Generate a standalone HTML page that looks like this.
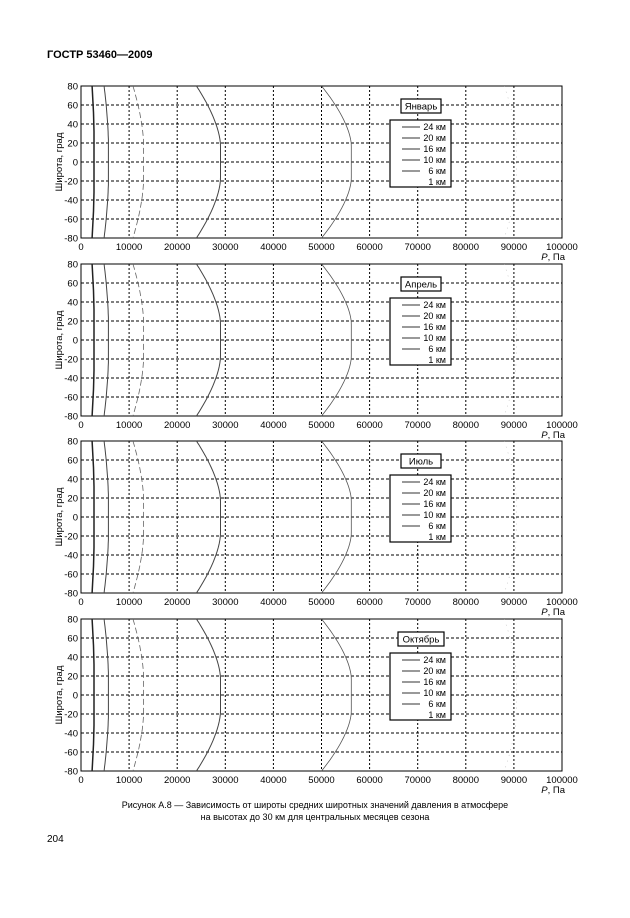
<!DOCTYPE html>
<html><head><meta charset="utf-8"><style>
body{margin:0;background:#fff;width:630px;height:913px;overflow:hidden;font-family:"Liberation Sans",sans-serif}
svg text{font-family:"Liberation Sans",sans-serif}
</style></head><body>
<svg id="s" width="630" height="913" xmlns="http://www.w3.org/2000/svg">
<text x="47" y="58" font-size="11" font-weight="bold">ГОСТР 53460—2009</text>
<text x="315" y="808" font-size="9" text-anchor="middle">Рисунок  А.8  —  Зависимость от широты средних широтных значений давления в атмосфере</text>
<text x="315" y="820" font-size="9" text-anchor="middle">на высотах до 30 км для центральных месяцев сезона</text>
<text x="47" y="842" font-size="10">204</text>
</svg>
<script>
var s=document.getElementById('s'),h='';
var X0=81,X1=562,H=152,tops=[86,264,441,619],months=['Январь','Апрель','Июль','Октябрь'];
function px(p){return X0+(X1-X0)*p/100000}
function f(lat,lo,hi,w){var a=Math.max(0,Math.abs(lat)-w)/(80-w);return lo+(hi-lo)*(1-Math.pow(a,1.6));}
var curves=[[2300,2700,30,'#222',1.5,''],[4800,5700,20,'#444',1,''],[10800,13000,20,'#666',0.8,'6 3'],[24000,29000,18,'#444',1,''],[50000,56200,18,'#555',0.8,''],[88000,90500,20,'#aaa',0.5,'1 5']];
tops.forEach(function(T,k){
 var B=T+H;
 h+='<rect x="'+X0+'" y="'+T+'" width="'+(X1-X0)+'" height="'+H+'" fill="none" stroke="#000" stroke-width="1"/>';
 for(var i=1;i<10;i++){var x=px(i*10000);h+='<line x1="'+x+'" y1="'+T+'" x2="'+x+'" y2="'+B+'" stroke="#000" stroke-dasharray="2 2" stroke-width="1"/>';}
 for(var j=1;j<8;j++){var y=T+j*H/8;h+='<line x1="'+X0+'" y1="'+y+'" x2="'+X1+'" y2="'+y+'" stroke="#000" stroke-dasharray="3 2" stroke-width="1"/>';}
 for(var j=0;j<=8;j++){var y=T+j*H/8;h+='<text x="'+(X0-3)+'" y="'+(y+3.5)+'" font-size="9.5" text-anchor="end">'+(80-20*j)+'</text>';}
 for(var i=0;i<=10;i++){h+='<text x="'+px(i*10000)+'" y="'+(B+12)+'" font-size="9.5" text-anchor="middle">'+(i*10000)+'</text>';}
 h+='<text x="565" y="'+(B+22)+'" font-size="9.5" text-anchor="end"><tspan font-style="italic">P</tspan>, Па</text>';
 h+='<text transform="translate(62,'+(T+H/2)+') rotate(-90)" font-size="9.5" text-anchor="middle">Широта, град</text>';
 curves.forEach(function(c){var d='';for(var lat=80;lat>=-80;lat-=4){d+=(lat==80?'M':'L')+px(f(lat,c[0],c[1],c[2])).toFixed(1)+','+(T+(80-lat)*H/160).toFixed(1);}
  h+='<path d="'+d+'" fill="none" stroke="'+c[3]+'" stroke-width="'+c[4]+'"'+(c[5]?' stroke-dasharray="'+c[5]+'"':'')+'/>';});
 var mw=k==3?46:40;
 h+='<rect x="'+(421-mw/2)+'" y="'+(T+13)+'" width="'+mw+'" height="14" fill="#fff" stroke="#000" stroke-width="1.2"/><text x="421" y="'+(T+23.5)+'" font-size="9.5" text-anchor="middle">'+months[k]+'</text>';
 h+='<rect x="390" y="'+(T+34)+'" width="61" height="67" fill="#fff" stroke="#000" stroke-width="1.2"/>';
 ['24 км','20 км','16 км','10 км','6 км','1 км'].forEach(function(t,m){var y=T+44+m*11;
  h+='<line x1="402" y1="'+(y-3)+'" x2="420" y2="'+(y-3)+'" stroke="'+(m==5?'#fff':'#333')+'" stroke-width="1"/><text x="446" y="'+y+'" font-size="9" text-anchor="end">'+t+'</text>';});
});
s.insertAdjacentHTML('beforeend',h);
</script>
</body></html>
